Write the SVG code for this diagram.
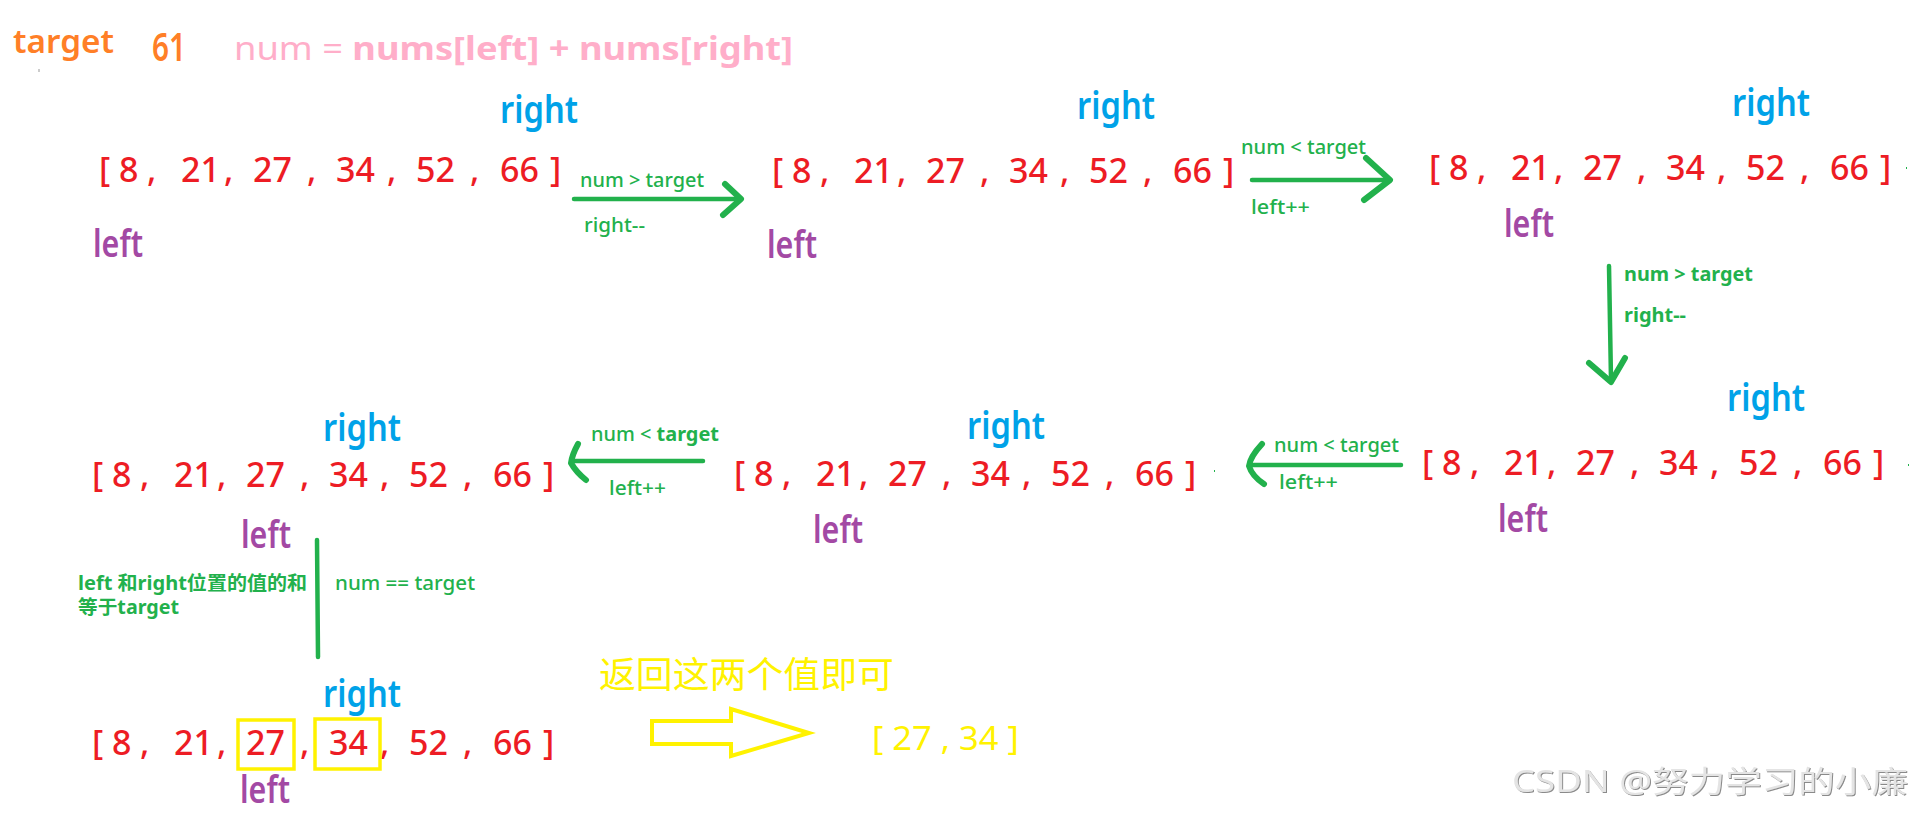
<svg xmlns="http://www.w3.org/2000/svg" width="1919" height="814" viewBox="0 0 1919 814">
<defs>
<style>
text{font-family:"Noto Sans","Noto Sans CJK SC",sans-serif}
.num{font-size:34px;fill:#ed1c24;font-weight:500}
.rt{font-size:37px;fill:#00a2e8;font-weight:600}
.lf{font-size:38px;fill:#a349a4;font-weight:600}
.lbl{font-size:19px;fill:#22b14c;font-weight:500}
.cjk{font-family:"Noto Sans","Noto Sans CJK SC",sans-serif}
.b{font-weight:bold}
.ln{stroke:#22b14c;stroke-width:4.5;fill:none;stroke-linecap:round;stroke-linejoin:round}
.hd{stroke:#22b14c;stroke-width:6;fill:none;stroke-linecap:round;stroke-linejoin:round}
.yl{fill:#fff200}
.box{fill:none;stroke:#fff200;stroke-width:3.5}
.dot{stroke:#22b14c;stroke-width:2}
</style>
<g id="arr"><text class="num" y="0"><tspan x="0">[</tspan><tspan x="20">8</tspan><tspan x="48">,</tspan><tspan x="82">21</tspan><tspan x="125">,</tspan><tspan x="154">27</tspan><tspan x="208">,</tspan><tspan x="237">34</tspan><tspan x="288">,</tspan><tspan x="317">52</tspan><tspan x="371">,</tspan><tspan x="401">66</tspan><tspan x="451">]</tspan></text></g>
<filter id="sh" x="-5%" y="-20%" width="110%" height="140%"><feDropShadow dx="1" dy="1" stdDeviation="0.5" flood-color="#8a8a8a"/></filter>
</defs>
<rect width="1919" height="814" fill="#ffffff"/>

<g id="header">
<text x="13" y="53" font-size="32" font-weight="600" fill="#ff7f27" textLength="101" lengthAdjust="spacingAndGlyphs">target</text>
<text x="152" y="61" font-size="39" font-weight="600" fill="#ff7f27" textLength="34" lengthAdjust="spacingAndGlyphs">61</text>
<text x="234" y="60" font-size="32" fill="#ffaec9" textLength="559" lengthAdjust="spacingAndGlyphs">num = <tspan class="b">nums[left] + nums[right]</tspan></text>
<line x1="39" y1="69" x2="39" y2="72" stroke="#999" stroke-width="1"/>
</g>

<g id="state1">
<use href="#arr" x="99" y="182"/>
<text class="rt" x="500" y="123" textLength="78" lengthAdjust="spacingAndGlyphs">right</text>
<text class="lf" x="93" y="257" textLength="50" lengthAdjust="spacingAndGlyphs">left</text>
</g>
<g id="state2">
<use href="#arr" x="772" y="183"/>
<text class="rt" x="1077" y="119" textLength="78" lengthAdjust="spacingAndGlyphs">right</text>
<text class="lf" x="767" y="258" textLength="50" lengthAdjust="spacingAndGlyphs">left</text>
</g>
<g id="state3">
<use href="#arr" x="1429" y="180"/>
<text class="rt" x="1732" y="116" textLength="78" lengthAdjust="spacingAndGlyphs">right</text>
<text class="lf" x="1504" y="237" textLength="50" lengthAdjust="spacingAndGlyphs">left</text>
<line class="dot" x1="1906" y1="168" x2="1907" y2="168"/>
</g>
<g id="state4">
<use href="#arr" x="1422" y="475"/>
<text class="rt" x="1727" y="411" textLength="78" lengthAdjust="spacingAndGlyphs">right</text>
<text class="lf" x="1498" y="532" textLength="50" lengthAdjust="spacingAndGlyphs">left</text>
<line class="dot" x1="1908" y1="465" x2="1909" y2="465"/>
</g>
<g id="state5">
<use href="#arr" x="734" y="486"/>
<text class="rt" x="967" y="439" textLength="78" lengthAdjust="spacingAndGlyphs">right</text>
<text class="lf" x="813" y="543" textLength="50" lengthAdjust="spacingAndGlyphs">left</text>
<line class="dot" x1="1214" y1="471" x2="1215" y2="471"/>
</g>
<g id="state6">
<use href="#arr" x="92" y="487"/>
<text class="rt" x="323" y="441" textLength="78" lengthAdjust="spacingAndGlyphs">right</text>
<text class="lf" x="241" y="548" textLength="50" lengthAdjust="spacingAndGlyphs">left</text>
</g>
<g id="state7">
<use href="#arr" x="92" y="755"/>
<rect class="box" x="238" y="720" width="56" height="49"/>
<rect class="box" x="315" y="719" width="65" height="50"/>
<text class="rt" x="323" y="707" textLength="78" lengthAdjust="spacingAndGlyphs">right</text>
<text class="lf" x="240" y="803" textLength="50" lengthAdjust="spacingAndGlyphs">left</text>
</g>

<g id="result">
<text class="yl cjk" x="599" y="688" font-size="36" textLength="295" lengthAdjust="spacingAndGlyphs">返回这两个值即可</text>
<polygon points="652,721 731,721 731,709 809,733 731,756 731,744 652,744" fill="none" stroke="#fff200" stroke-width="4" stroke-linejoin="miter"/>
<text class="yl" x="872" y="750" font-size="32" textLength="147" lengthAdjust="spacingAndGlyphs">[ 27 , 34 ]</text>
</g>

<g id="connectors">
<line class="ln" x1="574" y1="199" x2="740" y2="199"/>
<polyline class="hd" points="725,184 741,199 723,215"/>
<text class="lbl" x="580" y="187" textLength="124" lengthAdjust="spacingAndGlyphs">num &gt; target</text>
<text class="lbl" x="584" y="232" textLength="61" lengthAdjust="spacingAndGlyphs">right--</text>

<line class="ln" x1="1252" y1="180" x2="1388" y2="180"/>
<polyline class="hd" points="1366,158 1390,180 1364,200"/>
<text class="lbl" x="1241" y="154" textLength="125" lengthAdjust="spacingAndGlyphs">num &lt; target</text>
<text class="lbl" x="1251" y="214" textLength="59" lengthAdjust="spacingAndGlyphs">left++</text>

<line class="ln" x1="1609" y1="266" x2="1611" y2="380"/>
<polyline class="hd" points="1589,363 1611,382 1625,358"/>
<text class="lbl b" x="1624" y="281" textLength="129" lengthAdjust="spacingAndGlyphs">num &gt; target</text>
<text class="lbl b" x="1624" y="322" textLength="62" lengthAdjust="spacingAndGlyphs">right--</text>

<line class="ln" x1="1401" y1="465" x2="1252" y2="465"/>
<path class="hd" d="M1262,444 Q1250,457 1249,466 Q1252,476 1264,484"/>
<text class="lbl" x="1274" y="452" textLength="125" lengthAdjust="spacingAndGlyphs">num &lt; target</text>
<text class="lbl" x="1279" y="489" textLength="59" lengthAdjust="spacingAndGlyphs">left++</text>

<line class="ln" x1="703" y1="461" x2="572" y2="461"/>
<path class="hd" d="M578,444 Q572,455 571,463 Q576,472 586,480"/>
<text class="lbl" x="591" y="441" textLength="128" lengthAdjust="spacingAndGlyphs">num &lt; <tspan class="b">target</tspan></text>
<text class="lbl" x="609" y="495" textLength="57" lengthAdjust="spacingAndGlyphs">left++</text>

<line class="ln" x1="317" y1="540" x2="318" y2="657"/>
<text class="lbl b cjk" x="78" y="590" font-size="20" textLength="229" lengthAdjust="spacingAndGlyphs">left 和right位置的值的和</text>
<text class="lbl b cjk" x="78" y="614" font-size="20" textLength="101" lengthAdjust="spacingAndGlyphs">等于target</text>
<text class="lbl" x="335" y="590" font-size="20" textLength="140" lengthAdjust="spacingAndGlyphs">num == target</text>
</g>

<g id="watermark">
<text x="1512" y="792" font-size="30" fill="#e4e4e4" filter="url(#sh)" class="cjk" textLength="396" lengthAdjust="spacingAndGlyphs">CSDN @努力学习的小廉</text>
</g>
</svg>
